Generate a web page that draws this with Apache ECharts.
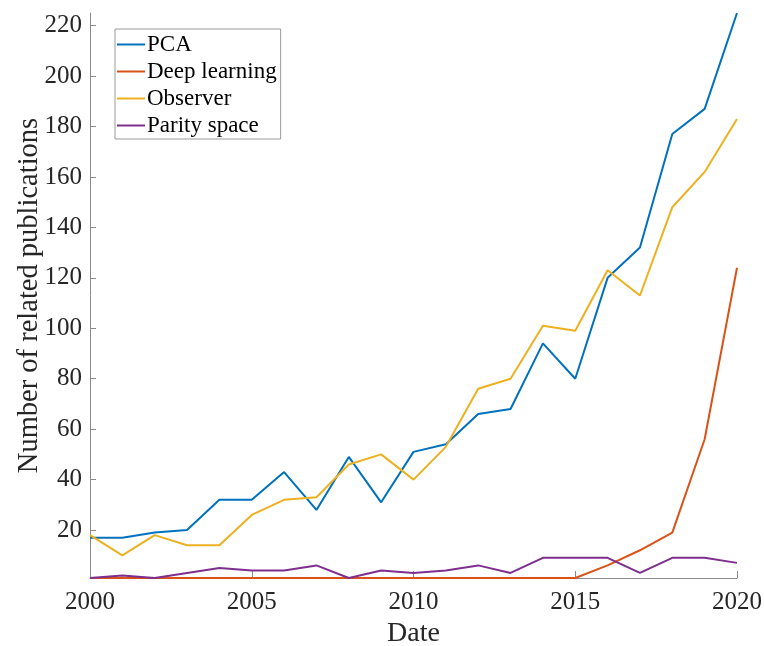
<!DOCTYPE html>
<html>
<head>
<meta charset="utf-8">
<script src="https://cdn.jsdelivr.net/npm/echarts@6/dist/echarts.min.js"></script>
<style>
  html, body { margin: 0; padding: 0; background: #fff; }
  #chart { width: 764px; height: 646px; }
</style>
</head>
<body>
<div id="chart"></div>
<script>
// Publication counts per year, 2000-2020
const years = [2000, 2001, 2002, 2003, 2004, 2005, 2006, 2007, 2008, 2009, 2010,
               2011, 2012, 2013, 2014, 2015, 2016, 2017, 2018, 2019, 2020];
const pca = [17, 17, 19, 20, 32, 32, 43, 28, 49, 31, 51, 54, 66, 68, 94, 80, 120, 132, 177, 187, 225];
const deepLearning = [1, 1, 1, 1, 1, 1, 1, 1, 1, 1, 1, 1, 1, 1, 1, 1, 6, 12, 19, 56, 124];
const observer = [18, 10, 18, 14, 14, 26, 32, 33, 46, 50, 40, 53, 76, 80, 101, 99, 123, 113, 148, 162, 183];
const paritySpace = [1, 2, 1, 3, 5, 4, 4, 6, 1, 4, 3, 4, 6, 3, 9, 9, 9, 3, 9, 9, 7];

const seriesNames = ['PCA', 'Deep learning', 'Observer', 'Parity space'];
const seriesColors = ['#0072BD', '#D95319', '#EDB120', '#7E2F8E'];
const yTicks = [20, 40, 60, 80, 100, 120, 140, 160, 180, 200, 220];
const xTicks = [2000, 2005, 2010, 2015, 2020];

const FONT = '"Liberation Serif", "Times New Roman", serif';
const TEXT = '#262626';
const AXIS = '#8a8a8a';

const toPairs = arr => years.map((y, i) => [y, arr[i]]);
const allData = [pca, deepLearning, observer, paritySpace];

const chart = echarts.init(document.getElementById('chart'), null, { renderer: 'canvas' });
chart.setOption({
  animation: false,
  backgroundColor: '#fff',
  grid: { left: 90, right: 27, top: 13, bottom: 68, containLabel: false, outerBoundsMode: 'none' },
  legend: {
    orient: 'vertical',
    left: 115,
    top: 29,
    padding: [4, 4, 2, 2],
    itemGap: 4,
    itemWidth: 28,
    itemHeight: 2,
    icon: 'rect',
    borderColor: '#9a9a9a',
    borderWidth: 1,
    backgroundColor: '#fff',
    textStyle: { fontFamily: FONT, fontSize: 23, color: '#000', lineHeight: 22, padding: [0, 0, 0, -3] },
    data: seriesNames
  },
  xAxis: {
    type: 'value',
    min: 2000,
    max: 2020,
    interval: 5,
    name: 'Date',
    nameLocation: 'middle',
    nameGap: 42,
    nameMoveOverlap: false,
    nameTextStyle: { fontFamily: FONT, fontSize: 28, color: TEXT },
    axisLine: { lineStyle: { color: AXIS, width: 1 } },
    axisTick: { inside: true, length: 7, lineStyle: { color: AXIS } },
    splitLine: { show: false },
    axisLabel: {
      fontFamily: FONT, fontSize: 25, color: TEXT, margin: 12,
      formatter: v => String(v),
      customValues: xTicks
    }
  },
  yAxis: {
    type: 'value',
    min: 1,
    max: 225,
    name: 'Number of related publications',
    nameLocation: 'middle',
    nameGap: 46,
    nameMoveOverlap: false,
    nameTextStyle: { fontFamily: FONT, fontSize: 28.5, color: TEXT },
    axisLine: { show: true, lineStyle: { color: AXIS, width: 1 } },
    axisTick: { show: true, inside: true, length: 6, lineStyle: { color: AXIS }, customValues: yTicks },
    splitLine: { show: false },
    axisLabel: { fontFamily: FONT, fontSize: 25, color: TEXT, margin: 8, customValues: yTicks }
  },
  series: seriesNames.map((name, i) => ({
    name: name,
    type: 'line',
    data: toPairs(allData[i]),
    showSymbol: false,
    symbol: 'none',
    lineStyle: { color: seriesColors[i], width: 2 },
    itemStyle: { color: seriesColors[i] },
    z: 2 + i
  }))
});
</script>
</body>
</html>
